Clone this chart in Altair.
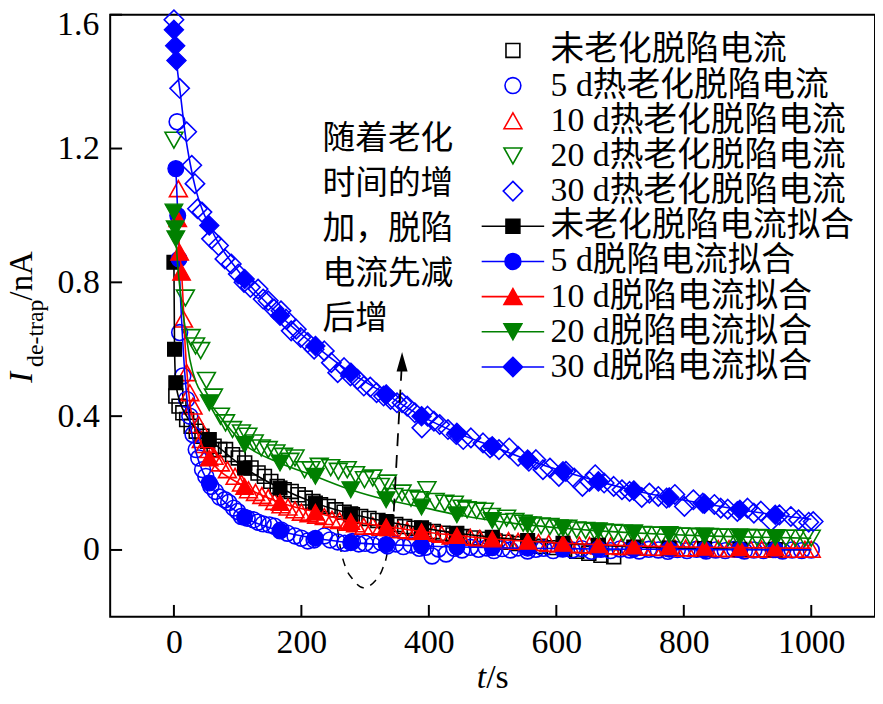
import altair as alt
import pandas as pd

# ---------------- legend / series names ----------------
SERIES = ["未老化脱陷电流", "5 d热老化脱陷电流", "10 d热老化脱陷电流", "20 d热老化脱陷电流", "30 d热老化脱陷电流",
          "未老化脱陷电流拟合", "5 d脱陷电流拟合", "10 d脱陷电流拟合", "20 d脱陷电流拟合", "30 d脱陷电流拟合"]

# ---------------- measured data (open markers) ----------------
t_un = [3, 8, 14, 20, 27, 35, 44, 53, 63, 72, 81, 92, 101, 111, 121, 132, 142, 152, 162, 173, 184, 195, 206, 218,
        230, 242, 254, 267, 280, 293, 306, 320, 334, 348, 362, 377, 392, 407, 422, 438, 454, 470, 487, 504, 521,
        539, 557, 575, 594, 613, 632, 651, 670, 690]
y_un = [0.46, 0.43, 0.41, 0.39, 0.37, 0.355, 0.34, 0.325, 0.31, 0.30, 0.30, 0.285, 0.275, 0.26, 0.245, 0.23, 0.22,
        0.205, 0.19, 0.18, 0.175, 0.165, 0.155, 0.145, 0.135, 0.13, 0.12, 0.113, 0.105, 0.10, 0.094, 0.088, 0.082,
        0.076, 0.07, 0.065, 0.06, 0.055, 0.05, 0.045, 0.04, 0.036, 0.032, 0.027, 0.023, 0.019, 0.015, 0.011, 0.007,
        0.002, -0.004, -0.01, -0.016, -0.02]

t_5d = [5, 9, 14, 20, 25, 30, 35, 39, 45, 50, 58, 65, 72, 80, 86, 94, 100, 106, 115, 125, 132, 140, 150, 158, 168,
        178, 190, 200, 210, 220, 236, 245, 257, 268, 280, 290, 300, 312, 325, 335, 348, 360, 372, 385, 395, 405,
        415, 427, 440, 452, 465, 478, 490, 502, 515, 528, 540, 555, 568, 580, 595, 610, 625, 640, 655, 670, 685,
        700, 715, 730, 745, 760, 775, 790, 805, 820, 835, 850, 865, 880, 895, 910, 925, 940, 955, 970, 985, 1000]
y_5d = [1.28, 0.65, 0.52, 0.45, 0.40, 0.345, 0.30, 0.275, 0.24, 0.22, 0.19, 0.175, 0.158, 0.15, 0.142, 0.125,
        0.115, 0.10, 0.095, 0.09, 0.083, 0.078, 0.075, 0.071, 0.06, 0.05, 0.042, 0.035, 0.027, 0.03, 0.042, 0.03,
        0.024, 0.02, 0.025, 0.018, 0.02, 0.015, 0.022, 0.012, 0.018, 0.01, 0.015, 0.005, 0.008, -0.018, 0.003,
        -0.012, 0.005, 0.0, 0.008, 0.002, 0.006, -0.002, 0.004, 0.0, 0.006, -0.003, 0.002, 0.005, -0.002, 0.003,
        0.0, 0.004, -0.004, 0.002, -0.002, 0.003, 0.0, -0.003, 0.002, 0.0, -0.004, 0.001, -0.002, 0.002, -0.003,
        0.0, -0.002, 0.002, -0.003, 0.0, -0.002, 0.001, -0.003, 0.0, -0.002, 0.0]

t_10d = [7, 15, 20, 25, 30, 39, 43, 48, 55, 63, 73, 84, 96, 106, 117, 128, 138, 148, 158, 168, 179, 190, 200, 212,
         224, 236, 248, 260, 273, 285, 298, 312, 325, 338, 352, 366, 380, 393, 407, 420, 435, 450, 465, 480, 495,
         510, 525, 540, 556, 572, 588, 604, 620, 636, 652, 668, 685, 702, 718, 735, 752, 769, 786, 803, 820, 837,
         854, 871, 888, 905, 922, 939, 956, 973, 990, 1000]
y_10d = [1.08, 0.69, 0.53, 0.47, 0.43, 0.375, 0.33, 0.315, 0.30, 0.28, 0.26, 0.24, 0.22, 0.20, 0.18, 0.172, 0.163,
         0.157, 0.145, 0.135, 0.128, 0.12, 0.113, 0.108, 0.104, 0.10, 0.092, 0.088, 0.083, 0.078, 0.071, 0.072,
         0.068, 0.066, 0.06, 0.058, 0.055, 0.053, 0.05, 0.047, 0.042, 0.04, 0.038, 0.035, 0.032, 0.03, 0.028, 0.026,
         0.024, 0.022, 0.02, 0.018, 0.017, 0.015, 0.014, 0.012, 0.012, 0.01, 0.01, 0.008, 0.008, 0.007, 0.006,
         0.006, 0.005, 0.005, 0.004, 0.004, 0.004, 0.003, 0.003, 0.003, 0.002, 0.002, 0.002, 0.002]

t_20d = [0, 18, 27, 34, 42, 51, 62, 73, 81, 92, 106, 116, 126, 137, 148, 160, 172, 182, 190, 205, 215, 228, 246,
         258, 272, 285, 299, 312, 324, 335, 345, 358, 372, 385, 397, 410, 425, 440, 452, 460, 475, 487, 498, 510,
         522, 535, 548, 562, 576, 590, 604, 618, 632, 646, 660, 675, 690, 705, 720, 735, 750, 765, 780, 795, 810,
         825, 840, 855, 870, 885, 900, 915, 930, 945, 960, 975, 990, 1000]
y_20d = [1.225, 0.753, 0.635, 0.61, 0.596, 0.507, 0.457, 0.40, 0.38, 0.36, 0.35, 0.34, 0.32, 0.305, 0.30, 0.29,
         0.28, 0.265, 0.275, 0.24, 0.24, 0.25, 0.246, 0.235, 0.24, 0.225, 0.21, 0.215, 0.19, 0.20, 0.16, 0.17,
         0.155, 0.15, 0.18, 0.145, 0.14, 0.137, 0.125, 0.12, 0.118, 0.116, 0.10, 0.083, 0.095, 0.085, 0.08, 0.075,
         0.072, 0.07, 0.066, 0.065, 0.06, 0.058, 0.056, 0.054, 0.052, 0.05, 0.048, 0.046, 0.045, 0.044, 0.043,
         0.042, 0.041, 0.04, 0.04, 0.039, 0.038, 0.038, 0.037, 0.037, 0.036, 0.036, 0.035, 0.035, 0.035, 0.035]

t_30d = [0, 9, 20, 28, 33, 37, 44, 59, 70, 80, 90, 101, 110, 120, 132, 140, 148, 157, 168, 176, 184, 192, 199, 210,
         220, 236, 247, 257, 267, 277, 288, 298, 308, 318, 329, 340, 350, 358, 366, 378, 389, 398, 408, 417, 430,
         443, 454, 466, 485, 496, 510, 526, 540, 557, 568, 579, 590, 604, 615, 628, 641, 652, 661, 675, 690, 703,
         715, 734, 746, 760, 773, 786, 801, 815, 830, 848, 858, 869, 884, 900, 910, 921, 937, 950, 968, 980, 996,
         1003]
y_30d = [1.585, 1.38, 1.25, 1.15, 1.095, 1.02, 1.01, 0.93, 0.91, 0.87, 0.855, 0.825, 0.80, 0.785, 0.78, 0.75,
         0.745, 0.72, 0.715, 0.69, 0.655, 0.66, 0.635, 0.62, 0.60, 0.595, 0.56, 0.53, 0.545, 0.52, 0.51, 0.49,
         0.487, 0.47, 0.46, 0.45, 0.44, 0.44, 0.43, 0.41, 0.365, 0.40, 0.385, 0.375, 0.36, 0.345, 0.33, 0.335,
         0.32, 0.305, 0.30, 0.305, 0.28, 0.265, 0.27, 0.24, 0.245, 0.22, 0.235, 0.215, 0.19, 0.205, 0.225, 0.20,
         0.19, 0.18, 0.175, 0.157, 0.17, 0.16, 0.155, 0.166, 0.13, 0.15, 0.14, 0.136, 0.125, 0.122, 0.115, 0.125,
         0.11, 0.116, 0.086, 0.105, 0.10, 0.09, 0.083, 0.085]

# ---------------- fitted curves ----------------
# markers every 55.5 s
fit_grid_t = [55.5, 111, 166.5, 222, 277.5, 333, 388.5, 444, 499.5, 555, 610.5, 666, 721.5, 777, 832.5, 888, 943.5]
fit_un_grid = [0.33, 0.245, 0.185, 0.14, 0.108, 0.085, 0.066, 0.05, 0.038, 0.028, 0.02, 0.014, 0.009, 0.006,
               0.004, 0.002, 0.001]
fit_5d_grid = [0.20, 0.098, 0.057, 0.035, 0.022, 0.016, 0.012, 0.009, 0.007, 0.005, 0.004, 0.003, 0.002, 0.002,
               0.001, 0.001, 0.001]
fit_10d_grid = [0.275, 0.19, 0.142, 0.113, 0.085, 0.07, 0.055, 0.043, 0.033, 0.026, 0.02, 0.016, 0.012, 0.01,
                0.008, 0.007, 0.006]
fit_20d_grid = [0.44, 0.315, 0.26, 0.22, 0.18, 0.15, 0.128, 0.105, 0.088, 0.075, 0.065, 0.057, 0.051, 0.046,
                0.042, 0.039, 0.037]
fit_30d_grid = [0.97, 0.81, 0.70, 0.61, 0.53, 0.465, 0.40, 0.35, 0.31, 0.27, 0.235, 0.205, 0.178, 0.157, 0.138,
                0.12, 0.105]

# early fit points (first three carry markers), end value at 1000 s
fit_un_head_t = [0, 1, 3, 10, 20, 35]
fit_un_head_y = [0.86, 0.60, 0.50, 0.44, 0.40, 0.36]
fit_un_end = 0.001
fit_5d_head_t = [3, 6, 8, 14, 20, 26, 35, 45]
fit_5d_head_y = [1.14, 1.00, 0.87, 0.62, 0.46, 0.37, 0.29, 0.235]
fit_5d_end = 0.001
fit_10d_head_t = [6, 9, 12, 18, 25, 35, 45]
fit_10d_head_y = [0.99, 0.89, 0.83, 0.60, 0.44, 0.36, 0.31]
fit_10d_end = 0.005
fit_20d_head_t = [0, 2, 3, 6, 12, 18, 25, 35, 45]
fit_20d_head_y = [1.01, 0.96, 0.93, 0.85, 0.74, 0.66, 0.57, 0.50, 0.465]
fit_20d_end = 0.035
fit_30d_head_t = [0, 2, 4, 11, 18, 26, 34, 44]
fit_30d_head_y = [1.555, 1.507, 1.463, 1.35, 1.24, 1.15, 1.08, 1.02]
fit_30d_end = 0.092

# annotation helpers
arc_t = [256.8, 261.5, 269, 280, 297, 316, 328, 335, 338]
arc_y = [0.062, 0.003, -0.05, -0.086, -0.113, -0.092, -0.053, -0.003, 0.062]
arrow_t = [345, 357]
arrow_y = [0.115, 0.535]
arrow_head_t = [358]
arrow_head_y = [0.557]
note_lines = ["随着老化", "时间的增", "加，脱陷", "电流先减", "后增"]

x_ticks = [0, 200, 400, 600, 800, 1000]
y_ticks = [0, 0.4, 0.8, 1.2, 1.6]

# ---------------- styles ----------------
BLACK, BLUE, RED, GREEN = "#000000", "#0000ff", "#ff0000", "#008000"
SQ = "M-1.4,-1.4H1.4V1.4H-1.4Z"
CI = "M1.6,0A1.6,1.6,0,1,1,-1.6,0A1.6,1.6,0,1,1,1.6,0Z"
TU = "M0,-1.6L1.8,1.6L-1.8,1.6Z"
TD = "M0,1.6L1.8,-1.6L-1.8,-1.6Z"
DI = "M0,-1.95L1.95,0L0,1.95L-1.95,0Z"
LN = "M-6.3,0H6.3M"
SHAPES = [SQ, CI, TU, TD, DI, LN + SQ[1:], LN + CI[1:], LN + TU[1:], LN + TD[1:], LN + DI[1:]]
STROKES = [BLACK, BLUE, RED, GREEN, BLUE, BLACK, BLUE, RED, GREEN, BLUE]
FILLS = ["transparent"] * 5 + [BLACK, BLUE, RED, GREEN, BLUE]
SERIF = "Liberation Serif"
MIXED = "'Liberation Serif', 'Noto Sans CJK SC'"

raw_sets = [(t_un, y_un), (t_5d, y_5d), (t_10d, y_10d), (t_20d, y_20d), (t_30d, y_30d)]
rows = []
for name, (ts, ys) in zip(SERIES[:5], raw_sets):
    rows += [{"t": a, "y": b, "series": name} for a, b in zip(ts, ys)]
raw_df = pd.DataFrame(rows)

x_scale = alt.Scale(domain=[-100, 1100], nice=False, zero=False)
y_scale = alt.Scale(domain=[-0.2, 1.6], nice=False, zero=False)
x_axis = alt.Axis(values=x_ticks, title=None, grid=False, domain=False, ticks=False, tickSize=0,
                  labelFont=SERIF, labelFontSize=34, labelColor="black", labelPadding=9,
                  labelOverlap=False, labelFlush=False, format="d")
y_axis = alt.Axis(values=y_ticks[:-1], title=None, grid=False, domain=False, ticks=False, tickSize=0,
                  labelFont=SERIF, labelFontSize=34, labelColor="black", labelPadding=11,
                  labelOverlap=False, labelFlush=False,
                  labelExpr="datum.value == 0 ? '0' : format(datum.value, '.1f')")
X = alt.X("t:Q", scale=x_scale, axis=x_axis)
Y = alt.Y("y:Q", scale=y_scale, axis=y_axis)

leg = alt.Legend(orient="none", legendX=389, legendY=19, title=None, labelFont=MIXED, labelFontSize=34,
                 labelColor="black", labelLimit=600, labelOffset=21, rowPadding=1.45, padding=0,
                 symbolSize=100, symbolStrokeWidth=1.6, symbolOpacity=1, labelBaseline="middle")

raw_layer = alt.Chart(raw_df).mark_point(filled=True, size=100, strokeWidth=1.6, opacity=1).encode(
    x=X, y=Y,
    shape=alt.Shape("series:N", scale=alt.Scale(domain=SERIES, range=SHAPES), legend=leg),
    stroke=alt.Stroke("series:N", scale=alt.Scale(domain=SERIES, range=STROKES), legend=leg),
    fill=alt.Fill("series:N", scale=alt.Scale(domain=SERIES, range=FILLS), legend=leg),
)

fits = [
    (fit_un_head_t, fit_un_head_y, fit_un_grid, fit_un_end, BLACK, SQ),
    (fit_5d_head_t, fit_5d_head_y, fit_5d_grid, fit_5d_end, BLUE, CI),
    (fit_10d_head_t, fit_10d_head_y, fit_10d_grid, fit_10d_end, RED, TU),
    (fit_20d_head_t, fit_20d_head_y, fit_20d_grid, fit_20d_end, GREEN, TD),
    (fit_30d_head_t, fit_30d_head_y, fit_30d_grid, fit_30d_end, BLUE, DI),
]
fit_layers = []
for ht, hy, gy, end, col, shp in fits:
    line_df = pd.DataFrame({"t": ht + fit_grid_t + [1000], "y": hy + gy + [end]})
    mark_df = pd.DataFrame({"t": ht[:3] + fit_grid_t, "y": hy[:3] + gy})
    fit_layers.append(alt.Chart(line_df).mark_line(color=col, strokeWidth=1.6, interpolate="monotone")
                      .encode(x=X, y=Y))
    fit_layers.append(alt.Chart(mark_df).mark_point(shape=shp, filled=True, fill=col, stroke=col, size=100,
                                                    strokeWidth=1.2, opacity=1).encode(x=X, y=Y))

arc_layer = alt.Chart(pd.DataFrame({"t": arc_t, "y": arc_y})).mark_line(
    color="black", strokeWidth=1.5, strokeDash=[8, 7], interpolate="monotone").encode(x=X, y=Y)
arrow_layer = alt.Chart(pd.DataFrame({"t": arrow_t, "y": arrow_y})).mark_line(
    color="black", strokeWidth=1.8, strokeDash=[13, 9]).encode(x=X, y=Y)
head_layer = alt.Chart(pd.DataFrame({"t": arrow_head_t, "y": arrow_head_y})).mark_point(
    shape="M0,-1.6L0.85,1.4L-0.85,1.4Z", filled=True, fill="black", stroke="black", size=100,
    opacity=1).encode(x=X, y=Y)

xtick_layer = alt.Chart(pd.DataFrame({"t": x_ticks})).mark_rule(color="black", strokeWidth=2).encode(
    x=X, y=alt.value(607), y2=alt.value(595))
ytick_layer = alt.Chart(pd.DataFrame({"y": y_ticks})).mark_rule(color="black", strokeWidth=2).encode(
    y=Y, x=alt.value(0), x2=alt.value(12))
# top tick label, nudged down so it stays inside the page
top_label = alt.Chart(pd.DataFrame({"y": y_ticks[-1:]})).mark_text(
    text="1.6", font=SERIF, fontSize=34, align="right", baseline="middle", dy=10, color="black").encode(
    y=Y, x=alt.value(-11))

note = alt.Chart(pd.DataFrame({"a": [0]})).mark_text(
    text=note_lines, font="Noto Sans CJK SC", fontSize=33, lineHeight=45.5, align="left", baseline="top",
    color="black").encode(x=alt.value(214), y=alt.value(109))

def label(txt, x, y, size, angle=0, style="normal", align="left"):
    return alt.Chart(pd.DataFrame({"a": [0]})).mark_text(
        text=txt, font=SERIF, fontSize=size, fontStyle=style, angle=angle, align=align,
        baseline="alphabetic", color="black").encode(x=alt.value(x), y=alt.value(y))

titles = [
    label("t", 379, 679, 34, style="italic", align="right"),
    label("/s", 379, 679, 34),
    label("I", -79, 371, 33, angle=270, style="italic"),
    label("de-trap", -68, 355, 24, angle=270),
    label("/nA", -79, 288, 33, angle=270),
]

chart = alt.layer(
    arc_layer, raw_layer, *fit_layers, arrow_layer, head_layer, xtick_layer, ytick_layer, top_label, note,
    *titles
).properties(
    width=771, height=607,
    padding={"left": 103, "top": 4, "right": 0, "bottom": 77},
    autosize=alt.AutoSizeParams(type="none"),
).configure_view(stroke="black", strokeWidth=2)

chart.save("out.html", embed_options={"renderer": "svg", "actions": False})
